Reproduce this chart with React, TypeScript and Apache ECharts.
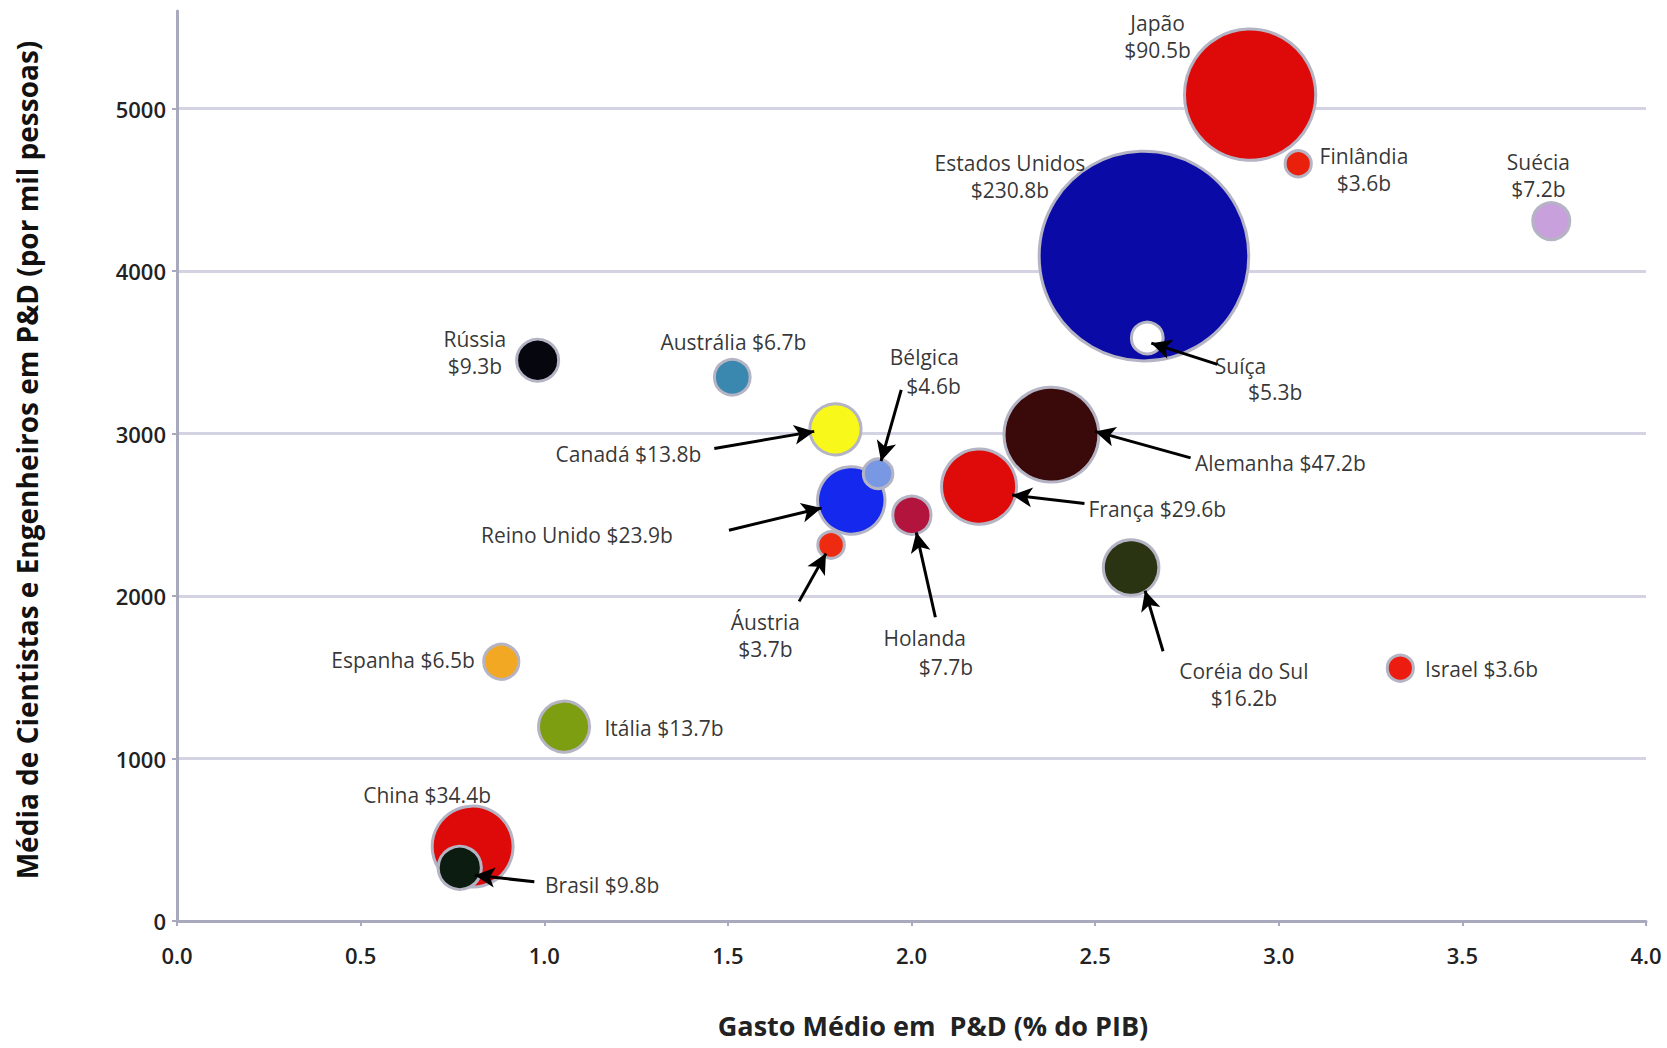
import React, { useEffect, useRef } from "react";
import * as echarts from "echarts";

// ---- data (sorted by spending, largest first so small bubbles draw on top)
const countries = [
  "Estados Unidos", "Japão", "Alemanha", "China", "França", "Reino Unido",
  "Coréia do Sul", "Canadá", "Itália", "Brasil", "Rússia", "Holanda",
  "Suécia", "Austrália", "Espanha", "Suíça", "Bélgica", "Áustria",
  "Finlândia", "Israel",
];
const rdShare = [
  2.633, 2.922, 2.381, 0.805, 2.184, 1.836, 2.598, 1.793, 1.054, 0.77,
  0.982, 2.001, 3.742, 1.512, 0.883, 2.642, 1.909, 1.781, 3.053, 3.331,
];
const researchers = [
  4092, 5085, 2993, 458, 2673, 2588, 2176, 3026, 1196, 327,
  3451, 2497, 4307, 3346, 1595, 3588, 2752, 2314, 4660, 1556,
];
const spending = [
  230.8, 90.5, 47.2, 34.4, 29.6, 23.9, 16.2, 13.8, 13.7, 9.8,
  9.3, 7.7, 7.2, 6.7, 6.5, 5.3, 4.6, 3.7, 3.6, 3.6,
];
const bubbleColors = [
  "#0a0aa6", "#de0a0a", "#3a0a0a", "#de0a0a", "#df0a0a", "#1428ee",
  "#2a3412", "#f8f81a", "#7e9e12", "#0c1c10", "#06060e", "#b3143e",
  "#c8a0dc", "#3a88b0", "#f2a822", "#ffffff", "#7898e4", "#ee2a10",
  "#e8200c", "#ec1c10",
];

const xTicks = [0, 0.5, 1, 1.5, 2, 2.5, 3, 3.5, 4];
const yTicks = [0, 1000, 2000, 3000, 4000, 5000];

// ---- annotation layout (label anchors and arrows, in data units)
type Lbl = { text: string; at: [number, number]; align: "left" | "center" | "right" };
const labels: Lbl[] = [
  { text: "Japão\n$90.5b", at: [2.67, 5444], align: "center" },
  { text: "Finlândia\n$3.6b", at: [3.232, 4627], align: "center" },
  { text: "Suécia\n$7.2b", at: [3.707, 4588], align: "center" },
  { text: "Estados Unidos\n$230.8b", at: [2.268, 4582], align: "center" },
  { text: "Suíça", at: [2.826, 3418], align: "left" },
  { text: "$5.3b", at: [2.916, 3255], align: "left" },
  { text: "Rússia\n$9.3b", at: [0.811, 3497], align: "center" },
  { text: "Austrália $6.7b", at: [1.515, 3562], align: "center" },
  { text: "Bélgica", at: [2.035, 3472], align: "center" },
  { text: "$4.6b", at: [2.06, 3294], align: "center" },
  { text: "Canadá $13.8b", at: [1.428, 2876], align: "right" },
  { text: "Reino Unido $23.9b", at: [1.35, 2373], align: "right" },
  { text: "Alemanha $47.2b", at: [2.772, 2817], align: "left" },
  { text: "França $29.6b", at: [2.482, 2536], align: "left" },
  { text: "Áustria\n$3.7b", at: [1.602, 1758], align: "center" },
  { text: "Holanda", at: [2.036, 1741], align: "center" },
  { text: "$7.7b", at: [2.094, 1565], align: "center" },
  { text: "Coréia do Sul\n$16.2b", at: [2.905, 1458], align: "center" },
  { text: "Israel $3.6b", at: [3.398, 1549], align: "left" },
  { text: "Espanha $6.5b", at: [0.811, 1608], align: "right" },
  { text: "Itália $13.7b", at: [1.164, 1190], align: "left" },
  { text: "China $34.4b", at: [0.681, 778], align: "center" },
  { text: "Brasil $9.8b", at: [1.002, 222], align: "left" },
];

const arrows: [number, number, number, number][] = [
  [2.833, 3425, 2.653, 3556],
  [1.463, 2908, 1.735, 3013],
  [1.972, 3268, 1.917, 2830],
  [1.503, 2405, 1.755, 2542],
  [2.76, 2850, 2.5, 3013],
  [2.471, 2569, 2.274, 2621],
  [1.694, 1967, 1.767, 2261],
  [2.065, 1869, 2.013, 2392],
  [2.685, 1660, 2.636, 2033],
  [0.973, 242, 0.811, 281],
];

const FONT = "'Open Sans', 'Noto Sans', sans-serif";

export default function App() {
  const ref = useRef<HTMLDivElement>(null);

  useEffect(() => {
    document.body.style.margin = "0";
    document.body.style.overflow = "hidden";
    const chart = echarts.init(ref.current!, undefined, { renderer: "svg" });

    const bubbles = countries.map((c, i) => ({
      name: c,
      value: [rdShare[i], researchers[i], spending[i]],
      itemStyle: { color: bubbleColors[i] },
    }));

    const labelData = labels.map((l) => ({
      value: l.at,
      label: { formatter: l.text, align: l.align },
    }));

    const arrowData = arrows.map((a) => [
      { coord: [a[0], a[1]] },
      { coord: [a[2], a[3]] },
    ]);

    chart.setOption({
      animation: false,
      backgroundColor: "#ffffff",
      grid: { left: 177, right: 21, top: 11, bottom: 127, containLabel: false },
      xAxis: {
        type: "value",
        min: 0,
        max: 4,
        interval: 0.5,
        axisLine: { show: true, lineStyle: { color: "#a9a9bd", width: 3 } },
        axisTick: { show: true, length: 5, lineStyle: { color: "#a9a9bd", width: 2 } },
        splitLine: { show: false },
        axisLabel: {
          margin: 23,
          fontFamily: FONT,
          fontSize: 22,
          fontWeight: 600,
          color: "#222",
          formatter: (v: number) => (xTicks.includes(v) ? v.toFixed(1) : ""),
        },
      },
      yAxis: {
        type: "value",
        min: 0,
        max: 5600,
        interval: 1000,
        axisLine: { show: true, lineStyle: { color: "#a9a9bd", width: 3 } },
        axisTick: {
          show: true,
          length: 5,
          customValues: yTicks,
          lineStyle: { color: "#a9a9bd", width: 2 },
        },
        splitLine: {
          show: true,
          showMinLine: false,
          lineStyle: { color: "#d3d3e3", width: 3 },
        },
        axisLabel: {
          margin: 11,
          fontFamily: FONT,
          fontSize: 22,
          fontWeight: 600,
          color: "#222",
          customValues: yTicks,
          formatter: (v: number) => (yTicks.includes(v) ? String(v) : ""),
        },
      },
      series: [
        {
          type: "scatter",
          name: "bubbles",
          data: bubbles,
          symbol: "circle",
          symbolSize: (val: number[]) => 13.8 * Math.sqrt(val[2]),
          itemStyle: { borderColor: "#b4b4c4", borderWidth: 3, opacity: 1 },
          emphasis: { disabled: true },
          z: 2,
          markLine: {
            silent: true,
            symbol: ["none", "arrow"],
            symbolSize: [15, 20],
            label: { show: false },
            lineStyle: { color: "#000", width: 3, type: "solid" },
            data: arrowData,
            z: 5,
          },
        },
        {
          type: "scatter",
          name: "labels",
          data: labelData,
          symbolSize: 0,
          silent: true,
          z: 4,
          label: {
            show: true,
            position: [0, 0],
            verticalAlign: "middle",
            fontFamily: FONT,
            fontSize: 21,
            lineHeight: 27,
            color: "#000",
          },
        },
      ],
      graphic: [
        {
          type: "text",
          x: 27,
          y: 460,
          rotation: Math.PI / 2,
          style: {
            text: "Média de Cientistas e Engenheiros em P&D (por mil pessoas)",
            font: `bold 28px ${FONT}`,
            fill: "#111",
            textAlign: "center",
            textVerticalAlign: "middle",
          },
        },
        {
          type: "text",
          x: 933,
          y: 1025,
          style: {
            text: "Gasto Médio em  P&D (% do PIB)",
            font: `bold 27px ${FONT}`,
            fill: "#222",
            textAlign: "center",
            textVerticalAlign: "middle",
          },
        },
      ],
    });

    return () => chart.dispose();
  }, []);

  return <div ref={ref} style={{ width: 1667, height: 1048 }} />;
}
